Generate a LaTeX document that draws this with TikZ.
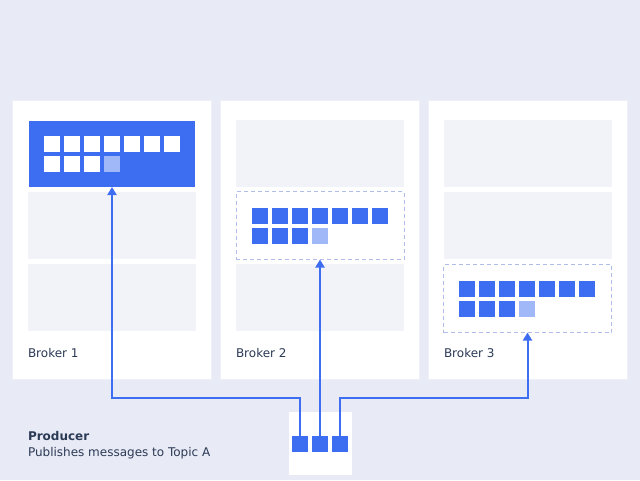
\documentclass[tikz,border=0pt]{standalone}
\usepackage{fontspec}
\setmainfont{DejaVu Sans}
\usetikzlibrary{arrows.meta}
\definecolor{bg}{HTML}{E8EAF6}
\definecolor{brand}{HTML}{3D6DF0}
\definecolor{pale}{HTML}{A0B8F8}
\definecolor{slot}{HTML}{F2F3F8}
\definecolor{rim}{HTML}{EEF0F8}
\definecolor{dashrim}{HTML}{B0BDEA}
\definecolor{ink}{HTML}{2B3A55}

% one partition's log: 7 messages on the first row, 4 on the second (last one pending)
\newcommand\msglog[5]{%
  \foreach \i in {0,...,6}
    \node[msg, fill=#4] (#1r\i) at ({#2+20*\i},#3) {};
  \foreach \i in {0,1,2}
    \node[msg, fill=#4] (#1s\i) at ({#2+20*\i},{#3+20}) {};
  \node[msg, fill=#5] (#1s3) at ({#2+60},{#3+20}) {};
}

\begin{document}
\begin{tikzpicture}[x=1pt,y=-1pt,
  every node/.style={inner sep=0pt, outer sep=0pt},
  broker/.style={draw=rim, fill=white, line width=1pt, anchor=north west,
                 minimum width=199pt, minimum height=279pt},
  part/.style={fill=slot, anchor=north west, minimum width=168pt, minimum height=67pt},
  leader/.style={fill=brand, anchor=north west, minimum width=166pt, minimum height=66pt},
  replica/.style={draw=dashrim, fill=white, line width=1pt, dash pattern=on 4pt off 3pt,
                  anchor=north west, minimum width=168pt, minimum height=68pt},
  msg/.style={anchor=north west, minimum size=16pt},
  label/.style={anchor=base west, text=ink, font=\fontsize{12}{14}\selectfont},
  link/.style={draw=brand, line width=2pt, -{Triangle[width=9pt,length=8pt]}},
]
\fill[bg] (0,0) rectangle (640,480);
\useasboundingbox (0,0) rectangle (640,480);

% brokers
\node[broker] (broker1) at (12,100) {};
\node[broker] (broker2) at (220,100) {};
\node[broker] (broker3) at (428,100) {};

% broker 1 partitions
\node[leader] (b1p1) at (29,121) {};
\node[part]   (b1p2) at (28,192) {};
\node[part]   (b1p3) at (28,264) {};
\msglog{b1}{44}{136}{white}{pale}
\node[label] (b1name) at (28,357) {Broker 1};

% broker 2 partitions
\node[part]    (b2p1) at (236,120) {};
\node[replica] (b2p2) at (236,191.5) {};
\node[part]    (b2p3) at (236,264) {};
\msglog{b2}{252}{208}{brand}{pale}
\node[label] (b2name) at (236,357) {Broker 2};

% broker 3 partitions
\node[part]    (b3p1) at (444,120) {};
\node[part]    (b3p2) at (444,192) {};
\node[replica] (b3p3) at (443.5,264.5) {};
\msglog{b3}{459}{281}{brand}{pale}
\node[label] (b3name) at (444,357) {Broker 3};

% producer
\node[fill=white, anchor=north west, minimum width=63pt, minimum height=63pt] (prod) at (288.5,412) {};
\node[msg, fill=brand] (q1) at (292,436) {};
\node[msg, fill=brand] (q2) at (312,436) {};
\node[msg, fill=brand] (q3) at (332,436) {};
\node[label, font=\fontsize{12}{14}\selectfont\bfseries] (ptitle) at (28,440) {Producer};
\node[label] (pdesc) at (28,456) {Publishes messages to Topic A};

% message routes
\coordinate (rail) at (0,398);
\draw[link] (q1.north) -- (q1.north |- rail) -| (b1p1.south);
\draw[link] (q2.north) -- (b2p2.south -| q2.north);
\draw[link] (q3.north) -- (q3.north |- rail) -| (b3p3.south);
\end{tikzpicture}
\end{document}
